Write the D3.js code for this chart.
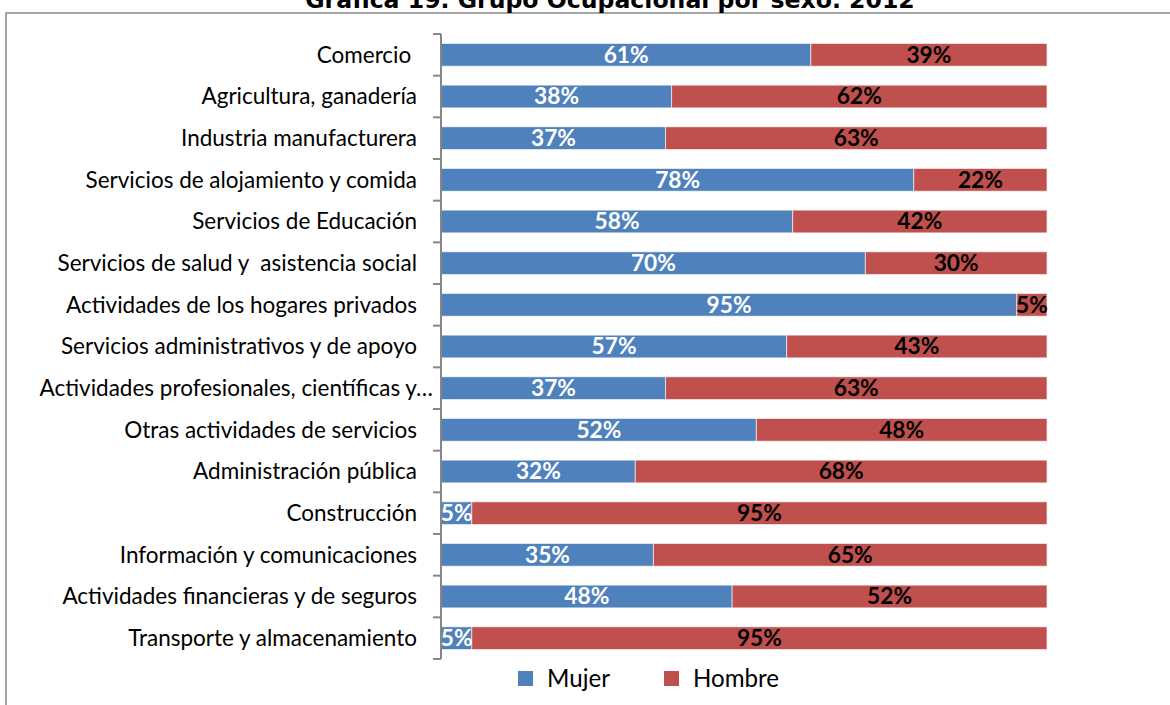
<!DOCTYPE html>
<html>
<head>
<meta charset="utf-8">
<script src="https://cdn.jsdelivr.net/npm/d3@7"></script>
<style>
  html, body { margin: 0; padding: 0; background: #ffffff; }
  svg { display: block; }
</style>
</head>
<body>
<svg id="chart" width="1170" height="705"></svg>
<script>
const title = "Gráfica 19. Grupo Ocupacional por sexo. 2012";
const categories = [
  "Comercio ",
  "Agricultura, ganadería",
  "Industria manufacturera",
  "Servicios de alojamiento y comida",
  "Servicios de Educación",
  "Servicios de salud y  asistencia social",
  "Actividades de los hogares privados",
  "Servicios administrativos y de apoyo",
  "Actividades profesionales, científicas y…",
  "Otras actividades de servicios",
  "Administración pública",
  "Construcción",
  "Información y comunicaciones",
  "Actividades financieras y de seguros",
  "Transporte y almacenamiento"
];
const mujer  = [61, 38, 37, 78, 58, 70, 95, 57, 37, 52, 32, 5, 35, 48, 5];
const hombre = [39, 62, 63, 22, 42, 30, 5, 43, 63, 48, 68, 95, 65, 52, 95];
const seriesNames = ["Mujer", "Hombre"];
const seriesColors = ["#4F81BD", "#C0504D"];
const labelColors = ["#FFFFFF", "#000000"];

const svg = d3.select("#chart");
const W = 1170, H = 705;

// text measuring helper to fit a sans face to the reference widths
const meas = svg.append("text").attr("x", -1000).attr("y", -1000);
function widthOf(txt, family, size, weight) {
  meas.attr("font-family", family).attr("font-size", size).attr("font-weight", weight || "normal")
      .style("white-space", "pre").text(txt);
  return meas.node().getComputedTextLength();
}
const FAM = "Lato, 'Open Sans', sans-serif";
const catSize = 24 * 289 / widthOf("Transporte y almacenamiento", FAM, 24);
const valSize = 24 * 45 / widthOf("95%", FAM, 24, "bold");
const legSize = 24 * 63 / widthOf("Mujer", FAM, 24);
const TFAM = "'DejaVu Sans', Verdana, sans-serif";
const titleSize = 20 * 610 / widthOf(title, TFAM, 20, "bold");
meas.remove();

// outer frame
svg.append("rect")
  .attr("x", 6).attr("y", 13).attr("width", W).attr("height", H)
  .attr("fill", "none").attr("stroke", "#878787").attr("stroke-width", 1.5);

// title (clipped at top as in reference)
svg.append("text")
  .attr("x", 610).attr("y", 8)
  .attr("text-anchor", "middle")
  .attr("font-family", TFAM).attr("font-weight", "bold")
  .attr("font-size", titleSize)
  .attr("fill", "#000")
  .text(title);

const x = d3.scaleLinear().domain([0, 100]).range([441.5, 1047]);
const y = d3.scaleBand().domain(categories).range([34, 659])
  .paddingInner(0.455).paddingOuter(0.2275);

const rows = categories.map((c, i) => ({ cat: c, Mujer: mujer[i], Hombre: hombre[i] }));
const stacked = d3.stack().keys(seriesNames)(rows);

const g = svg.append("g");
stacked.forEach((s, si) => {
  g.selectAll(null).data(s).enter().append("rect")
    .attr("x", d => x(d[0]))
    .attr("y", d => y(d.data.cat))
    .attr("width", d => x(d[1]) - x(d[0]))
    .attr("height", y.bandwidth())
    .attr("fill", seriesColors[si])
    .attr("stroke", "rgba(255,255,255,0.6)")
    .attr("stroke-width", 1);
});

// value labels
stacked.forEach((s, si) => {
  g.selectAll(null).data(s).enter().append("text")
    .attr("x", d => (x(d[0]) + x(d[1])) / 2)
    .attr("y", d => y(d.data.cat) + y.bandwidth() / 2)
    .attr("dy", "0.35em")
    .attr("text-anchor", "middle")
    .attr("font-family", FAM).attr("font-weight", "bold")
    .attr("font-size", valSize)
    .attr("fill", labelColors[si])
    .text(d => (d[1] - d[0]) + "%");
});

// axis line + ticks at band boundaries
const axisX = 441;
const step = y.step();
const y0 = y.range()[0];
svg.append("line")
  .attr("x1", axisX).attr("x2", axisX)
  .attr("y1", y0).attr("y2", y0 + step * categories.length)
  .attr("stroke", "#868686").attr("stroke-width", 2);
svg.selectAll(null).data(d3.range(categories.length + 1)).enter().append("line")
  .attr("x1", axisX - 8).attr("x2", axisX)
  .attr("y1", i => y0 + i * step).attr("y2", i => y0 + i * step)
  .attr("stroke", "#868686").attr("stroke-width", 2);

// category labels
svg.selectAll(null).data(categories).enter().append("text")
  .attr("x", d => d.endsWith("…") ? 433 : 417)
  .attr("y", d => y(d) + y.bandwidth() / 2)
  .attr("dy", "0.35em")
  .attr("text-anchor", "end")
  .attr("font-family", FAM)
  .attr("font-size", catSize)
  .attr("fill", "#000")
  .style("white-space", "pre")
  .text(d => d);

// legend
const legX = [518, 664];
seriesNames.forEach((n, i) => {
  svg.append("rect")
    .attr("x", legX[i]).attr("y", 671)
    .attr("width", 15).attr("height", 15)
    .attr("fill", seriesColors[i]);
  svg.append("text")
    .attr("x", legX[i] + 29).attr("y", 678.5)
    .attr("dy", "0.35em")
    .attr("font-family", FAM)
    .attr("font-size", legSize)
    .attr("fill", "#000")
    .text(n);
});
</script>
</body>
</html>
